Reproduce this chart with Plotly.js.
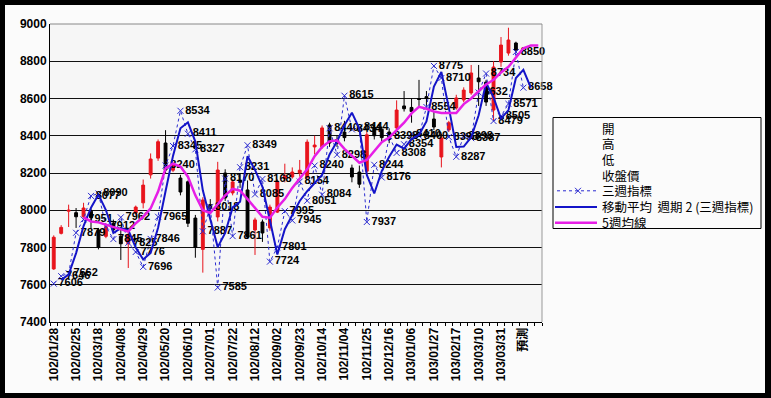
<!DOCTYPE html>
<html><head><meta charset="utf-8">
<script src="https://cdn.plot.ly/plotly-3.0.1.min.js"></script>
<style>
html,body{margin:0;padding:0;background:#000;width:771px;height:398px;overflow:hidden}
#chart{position:absolute;left:5px;top:5px;width:760px;height:388px;}
</style></head><body><div id="chart"></div>
<script>
const weeks = ["102/01/28","102/02/04","102/02/18","102/02/25","102/03/04","102/03/11","102/03/18","102/03/25","102/04/01","102/04/08",
"102/04/15","102/04/22","102/04/29","102/05/06","102/05/13","102/05/20","102/05/27","102/06/03","102/06/10","102/06/17",
"102/06/24","102/07/01","102/07/08","102/07/15","102/07/22","102/07/29","102/08/05","102/08/12","102/08/19","102/08/26",
"102/09/02","102/09/09","102/09/16","102/09/23","102/09/30","102/10/07","102/10/14","102/10/21","102/10/28","102/11/04",
"102/11/11","102/11/18","102/11/25","102/12/02","102/12/09","102/12/16","102/12/23","102/12/30","103/01/06","103/01/13",
"103/01/20","103/01/27","103/02/03","103/02/10","103/02/17","103/02/24","103/03/03","103/03/10","103/03/17","103/03/24",
"103/03/31","103/04/07","103/04/14","預測","",""];

const openP  = [7685,7876,7995,7987,7965,7995,7894,7860,7930,7860,7820,7985,8040,8190,8280,8361,8215,8173,8153,7958,7790,8030,7964,8200,8093,8160,8109,7894,7937,7905,7990,8170,8179,8200,8179,8340,8340,8458,8380,8420,8227,8205,8210,8440,8435,8420,8442,8560,8552,8600,8610,8490,8286,8431,8549,8592,8630,8710,8688,8538,8796,8844,8898];
const highP  = [7865,7920,8030,8012,8040,8010,7905,7930,7950,7894,7880,8025,8165,8305,8380,8430,8255,8190,8160,7975,8070,8060,8260,8220,8165,8200,8160,7960,7950,8030,8165,8250,8230,8270,8380,8400,8455,8470,8400,8480,8245,8240,8420,8460,8450,8440,8590,8640,8600,8700,8640,8530,8410,8480,8620,8660,8780,8780,8700,8800,8930,8980,8905];
const lowP   = [7680,7870,7910,7905,7960,7900,7790,7850,7880,7733,7690,7975,8010,8170,8265,8200,8205,8080,7910,7745,7665,7990,7940,8050,8080,8120,7850,7760,7830,7890,7985,8150,8170,8180,8170,8300,8330,8340,8340,8370,8150,8120,8190,8380,8370,8360,8420,8530,8470,8560,8560,8430,8230,8420,8540,8580,8620,8560,8560,8480,8770,8830,8850];
const closeP = [7855,7908,8000,7965,8012,7960,7800,7912,7895,7820,7870,8017,8135,8275,8368,8216,8243,8098,7930,7800,8055,8010,8216,8066,8152,8150,7856,7948,7878,8017,8152,8185,8205,8215,8366,8350,8442,8361,8360,8390,8179,8140,8405,8400,8390,8380,8538,8545,8530,8595,8600,8447,8388,8470,8603,8645,8737,8690,8581,8769,8887,8914,8860];

const threeWeek = [7606,7646,7662,7879,7951,8077,8090,7912,7845,7962,7825,7776,7696,7846,7965,8240,8345,8534,8411,8327,
7887,8018,7585,8170,7861,8231,8349,8085,8168,7724,7801,7995,7945,8154,8051,8240,8084,8440,8298,8615,
8434,8444,7937,8244,8176,8398,8308,8354,8410,8400,8554,8775,8710,8393,8287,8398,8387,8632,8734,8479,
8505,8571,8850,8658];

const threeWeekMA2 = [null,7626,7654,7770,7915,8014,8084,8001,7878,7904,7894,7800,7736,7771,7906,8102,8292,8440,8472,8369,
8107,7952,7802,7878,8015,8046,8290,8217,8126,7946,7762,7898,7970,8050,8102,8146,8190,8300,8369,8456,
8524,8439,8190,8090,8210,8287,8353,8331,8382,8405,8477,8664,8742,8551,8340,8342,8392,8510,8683,8606,
8492,8538,8710,8754,8658];

const ma5 = [null,null,null,null,7962,7940,7935,7922,7910,7895,7885,7930,7965,8010,8100,8225,8250,8235,8180,8080,
8000,7985,8030,8080,8115,8105,8060,8010,7965,7960,8015,8060,8120,8170,8220,8290,8340,8370,8375,8330,
8290,8255,8270,8320,8365,8390,8430,8470,8520,8555,8545,8530,8522,8520,8522,8570,8600,8640,8675,8700,
8740,8770,8820,8870,8885,8885];

const yTicks = [7400,7600,7800,8000,8200,8400,8600,8800,9000];
const legendNames = ["開","高","低","收盤價","三週指標","移動平均  週期 2 (三週指標)","5週均線"];

const idx = a => a.map((_, i) => i);
const labelIdx = idx(weeks).filter(i => i % 3 === 0 && weeks[i] !== "");
const FONT = "Liberation Sans, DejaVu Sans, Noto Sans CJK TC, sans-serif";
const CJK = "Noto Sans CJK TC, sans-serif";
const BLUE_DOT = '#2a2ad0', BLUE = '#1414c8', MAGENTA = '#e61ee6';

const traces = [];
traces.push({type:'candlestick', x: idx(openP), open: openP, high: highP, low: lowP, close: closeP,
  increasing:{line:{color:'#e8141c', width:1}, fillcolor:'#e8141c'},
  decreasing:{line:{color:'#000000', width:1}, fillcolor:'#000000'},
  whiskerwidth:0, hoverinfo:'skip'});
traces.push({type:'scatter', mode:'lines+markers+text', x: idx(threeWeek), y: threeWeek, name: legendNames[4],
  text: threeWeek.map(String), textposition:'middle right',
  textfont:{family: FONT, size: 11, color:'#000', weight: 'bold'},
  line:{color:BLUE_DOT, width:1, dash:'dot'},
  marker:{symbol:'x-thin', size:6, line:{color:BLUE_DOT, width:1}, color:BLUE_DOT}, cliponaxis:false});
traces.push({type:'scatter', mode:'lines', x: idx(threeWeekMA2), y: threeWeekMA2, name: legendNames[5],
  line:{color:BLUE, width:2}});
traces.push({type:'scatter', mode:'lines', x: idx(ma5), y: ma5, name: legendNames[6],
  line:{color:MAGENTA, width:2.5}});

// manual legend (paper coordinates of the plot area)
const PW = 492, PH = 298;            // plot area size in px
const px = v => (v - 50) / PW;       // window x -> paper
const py = v => (322 - v) / PH;      // window y -> paper
const rowY = [128.3, 143.5, 159.3, 175, 190.8, 207, 222.7];
const shapes = [
  {type:'line', xref:'paper', yref:'paper', x0:1, x1:1, y0:0, y1:1, line:{color:'#999', width:1}},
  {type:'line', xref:'paper', yref:'paper', x0:0, x1:1, y0:1, y1:1, line:{color:'#888', width:1}},
  {type:'rect', xref:'paper', yref:'paper', x0:px(553), x1:px(761), y0:py(228.5), y1:py(117.5),
    line:{color:'#000', width:1}, fillcolor:'rgba(0,0,0,0)'},
  {type:'line', xref:'paper', yref:'paper', x0:px(557), x1:px(597), y0:py(rowY[4]), y1:py(rowY[4]),
    line:{color:BLUE_DOT, width:1, dash:'dot'}},
  {type:'line', xref:'paper', yref:'paper', x0:px(575), x1:px(581), y0:py(rowY[4]-3), y1:py(rowY[4]+3),
    line:{color:BLUE_DOT, width:1}},
  {type:'line', xref:'paper', yref:'paper', x0:px(575), x1:px(581), y0:py(rowY[4]+3), y1:py(rowY[4]-3),
    line:{color:BLUE_DOT, width:1}},
  {type:'line', xref:'paper', yref:'paper', x0:px(555), x1:px(597), y0:py(rowY[5]), y1:py(rowY[5]),
    line:{color:BLUE, width:2}},
  {type:'line', xref:'paper', yref:'paper', x0:px(555), x1:px(597), y0:py(rowY[6]), y1:py(rowY[6]),
    line:{color:MAGENTA, width:2.5}}
];
const annotations = legendNames.map((t, k) => ({
  xref:'paper', yref:'paper', x:px(600), y:py(rowY[k]), xanchor:'left', yanchor:'middle',
  text:t, showarrow:false, font:{family:CJK, size:12.5, color:'#000'}
}));

const layout = {
  width:760, height:388,
  margin:{l:45, r:223, t:19, b:71},
  paper_bgcolor:'#fbfbfb', plot_bgcolor:'#f6f6f6',
  boxgap:0.45,
  showlegend:false,
  xaxis:{range:[-0.5, 65.5], tickmode:'array', tickvals: labelIdx, ticktext: labelIdx.map(i => weeks[i]),
    tickangle:-90, tickfont:{family:FONT, size:12, color:'#000', weight:'bold'},
    showgrid:false, zeroline:false, showline:true, linecolor:'#000', linewidth:1,
    ticks:'', rangeslider:{visible:false}, fixedrange:true,
    minor:{tick0:-0.5, dtick:1, ticks:'outside', ticklen:3, tickcolor:'#000', showgrid:false}},
  yaxis:{range:[7400, 9000], tickmode:'array', tickvals: yTicks, ticktext: yTicks.map(String),
    tickfont:{family:FONT, size:12, color:'#000', weight:'bold'},
    showgrid:true, gridcolor:'#111', gridwidth:1, zeroline:false, showline:true, linecolor:'#000',
    ticks:'', fixedrange:true},
  shapes: shapes,
  annotations: annotations
};
Plotly.newPlot('chart', traces, layout, {displayModeBar:false, staticPlot:true});
</script></body></html>
